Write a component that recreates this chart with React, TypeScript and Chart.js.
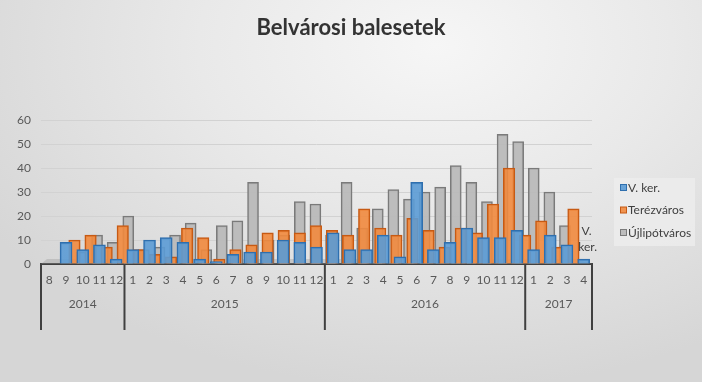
import React, { useEffect, useRef } from "react";
import { Chart, registerables } from "chart.js";

Chart.register(...registerables);

const TITLE = "Belvárosi balesetek";

const monthLabels = [
  "8", "9", "10", "11", "12",
  "1", "2", "3", "4", "5", "6", "7", "8", "9", "10", "11", "12",
  "1", "2", "3", "4", "5", "6", "7", "8", "9", "10", "11", "12",
  "1", "2", "3", "4",
];
const yearLabels = ["2014", "2015", "2016", "2017"];
const yearMonthCounts = [5, 12, 12, 4];

const seriesNames = ["V. ker.", "Terézváros", "Újlipótváros"];

const vKer = [
  0, 9, 6, 8, 2,
  6, 10, 11, 9, 2, 1, 4, 5, 5, 10, 9, 7,
  13, 6, 6, 12, 3, 34, 6, 9, 15, 11, 11, 14,
  6, 12, 8, 2,
];
const terezvaros = [
  0, 10, 12, 7, 16,
  6, 4, 3, 15, 11, 2, 6, 8, 13, 14, 13, 16,
  14, 12, 23, 15, 12, 19, 14, 7, 15, 13, 25, 40,
  12, 18, 7, 23,
];
const ujlipotvaros = [
  0, 5, 12, 9, 20,
  6, 7, 12, 17, 6, 16, 18, 34, 10, 12, 26, 25,
  12, 34, 15, 23, 31, 27, 30, 32, 41, 34, 26, 54,
  51, 40, 30, 16,
];

const yMax = 60;
const yStep = 10;

const fills = ["rgba(91,155,213,0.9)", "rgba(241,137,62,0.9)", "rgba(185,185,185,0.92)"];
const borders = ["#2f6fae", "#c65a14", "#7a7a7a"];
const thickness = [12, 11.5, 11];
// depth (perspective) factor of each series row: 0 = front
const depth = [0, 0.036, 0.066];

const FONT = "Lato, 'Open Sans', sans-serif";

// chart area layout (pixels)
const AREA_LEFT = 41;
const AREA_RIGHT = 592;
const VANISH_X = 300;

const decorPlugin = {
  id: "decor",
  beforeDatasetsDraw(chart: any) {
    const ctx = chart.ctx as CanvasRenderingContext2D;
    const area = chart.chartArea;
    ctx.save();
    ctx.fillStyle = "rgba(150,150,150,0.35)";
    ctx.beginPath();
    ctx.moveTo(area.left + 6, area.bottom - 5);
    ctx.lineTo(area.right - 16, area.bottom - 5);
    ctx.lineTo(area.right, area.bottom);
    ctx.lineTo(area.left, area.bottom);
    ctx.closePath();
    ctx.fill();
    ctx.restore();
  },
  afterDraw(chart: any) {
    const ctx = chart.ctx as CanvasRenderingContext2D;
    const xs = chart.scales.x;
    const ys = chart.scales.y;
    const area = chart.chartArea;
    ctx.save();

    // title
    ctx.font = `bold 22px ${FONT}`;
    ctx.fillStyle = "#333333";
    ctx.textAlign = "center";
    ctx.textBaseline = "middle";
    ctx.fillText(TITLE, chart.width / 2, 28);

    // year groups
    const n = monthLabels.length;
    const step = (xs.right - xs.left) / n;
    ctx.strokeStyle = "#404040";
    ctx.lineWidth = 2;
    let start = 0;
    const drawSep = (px: number) => {
      ctx.beginPath();
      ctx.moveTo(px, area.bottom);
      ctx.lineTo(px, area.bottom + 66);
      ctx.stroke();
    };
    drawSep(xs.left);
    ctx.font = `12px ${FONT}`;
    ctx.fillStyle = "#595959";
    yearLabels.forEach((yl, k) => {
      const c = yearMonthCounts[k];
      const l = xs.getPixelForValue(start) - step / 2;
      const r = xs.getPixelForValue(start + c - 1) + step / 2;
      drawSep(r);
      ctx.fillText(yl, (l + r) / 2, area.bottom + 40);
      start += c;
    });

    // stray series label
    const lastIdx = n - 1;
    const lx = xs.getPixelForValue(lastIdx) + 3;
    ctx.fillStyle = "#404040";
    ctx.font = `12px ${FONT}`;
    ctx.fillText("V.", lx, ys.getPixelForValue(13.8));
    ctx.fillText("ker.", lx + 1, ys.getPixelForValue(7.2));

    // legend
    const bx = 614, by = 178, bw = 81, bh = 68;
    ctx.fillStyle = "rgba(236,236,236,0.85)";
    ctx.fillRect(bx, by, bw, bh);
    ctx.textAlign = "left";
    seriesNames.forEach((name, i) => {
      const cy = by + 10 + i * 22.5;
      ctx.fillStyle = fills[i];
      ctx.fillRect(bx + 6.5, cy - 3.5, 6, 6);
      ctx.strokeStyle = borders[i];
      ctx.lineWidth = 1;
      ctx.strokeRect(bx + 6.5, cy - 3.5, 6, 6);
      ctx.fillStyle = "#404040";
      ctx.font = `12px ${FONT}`;
      ctx.fillText(name, bx + 14, cy);
    });
    ctx.restore();
  },
};

export default function App() {
  const ref = useRef<HTMLCanvasElement | null>(null);

  useEffect(() => {
    if (!ref.current) return;
    const series = [vKer, terezvaros, ujlipotvaros];
    const n = monthLabels.length;
    const step = (AREA_RIGHT - AREA_LEFT) / n;

    // hidden linear x-axes that compress each back row toward the vanishing point
    const depthScales: any = {};
    depth.forEach((k, i) => {
      const slope = (1 - k) * step;
      const min = -0.5 - (k * (VANISH_X - AREA_LEFT)) / slope;
      const max = min + (AREA_RIGHT - AREA_LEFT) / slope;
      depthScales["d" + i] = {
        type: "linear",
        display: false,
        min,
        max,
        offset: false,
        grid: { display: false },
      };
    });

    const chart = new Chart(ref.current, {
      type: "bar",
      data: {
        labels: monthLabels,
        datasets: series.map((d, i) => ({
          label: seriesNames[i],
          data: d.map((v, j) => ({ x: j, y: v })),
          xAxisID: "d" + i,
          backgroundColor: fills[i],
          borderColor: borders[i],
          borderWidth: 1.5,
          order: i,
          grouped: false,
          barThickness: thickness[i],
        })),
      },
      options: {
        animation: false,
        responsive: false,
        maintainAspectRatio: false,
        layout: { padding: { top: 120, right: 702 - AREA_RIGHT, left: 0, bottom: 0 } },
        plugins: {
          legend: { display: false },
          title: { display: false },
          tooltip: { enabled: false },
        },
        scales: {
          x: {
            type: "category",
            labels: monthLabels,
            grid: { display: false, drawTicks: false },
            border: { display: true, color: "#404040", width: 2 },
            ticks: {
              color: "#595959",
              font: { family: FONT, size: 12 },
              padding: 9,
              maxRotation: 0,
              autoSkip: false,
            },
            afterFit(s: any) {
              s.height = 118;
            },
          },
          ...depthScales,
          y: {
            min: 0,
            max: yMax,
            ticks: {
              stepSize: yStep,
              color: "#595959",
              font: { family: FONT, size: 12 },
              padding: 10,
            },
            grid: { color: "#d2d2d2", drawTicks: false },
            border: { display: false },
            afterFit(s: any) {
              s.width = AREA_LEFT;
            },
          },
        },
      },
      plugins: [decorPlugin],
    });
    return () => chart.destroy();
  }, []);

  return (
    <div
      style={{
        position: "fixed",
        left: 0,
        top: 0,
        width: 702,
        height: 382,
        background:
          "radial-gradient(ellipse 75% 90% at 62% 12%, #f6f6f6 0%, #e9e9e9 45%, #d6d6d6 100%)",
      }}
    >
      <canvas ref={ref} width={702} height={382} style={{ width: 702, height: 382, display: "block" }} />
    </div>
  );
}
